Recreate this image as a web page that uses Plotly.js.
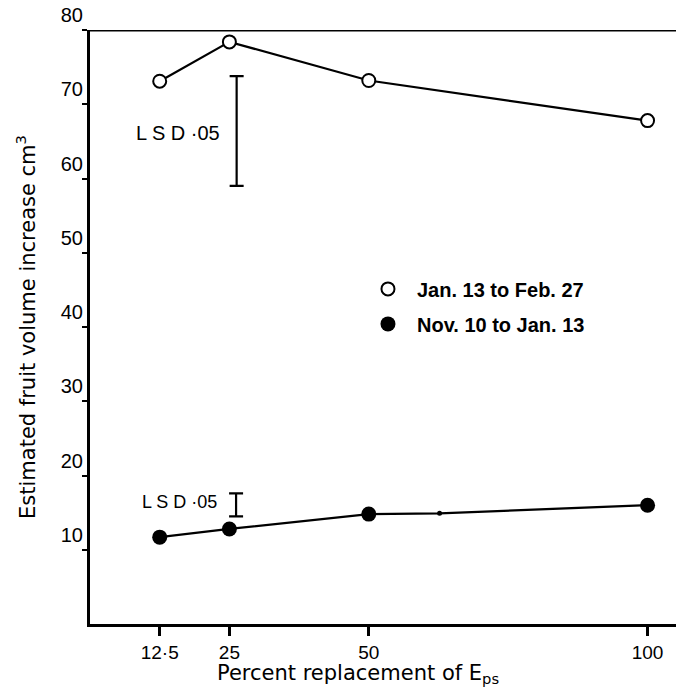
<!DOCTYPE html>
<html>
<head>
<meta charset="utf-8">
<script src="https://cdn.plot.ly/plotly-3.0.1.min.js"></script>
<style>html,body{margin:0;padding:0;background:#fff;}#chart{width:676px;height:688px;}</style>
</head>
<body>
<div id="chart"></div>
<script>
// Data
const xPct = [12.5, 25, 50, 100];
const xTickLabels = ["12·5", "25", "50", "100"];
const janFebY = [73.1, 78.4, 73.2, 67.8];
const novJanY = [11.7, 12.8, 14.8, 16.0];
const novDotX = [62.7];
const novDotY = [14.9];
const lsdX = [26.3, 26.2];
const lsdLow = [59.0, 14.5];
const lsdHigh = [73.8, 17.6];
const yTicks = [10, 20, 30, 40, 50, 60, 70, 80];
const seriesNames = ["Jan. 13 to Feb. 27", "Nov. 10 to Jan. 13"];

// merged line for the Nov series (passes through the small dot)
const novLinePts = xPct.map((x, i) => [x, novJanY[i]]).concat(novDotX.map((x, i) => [x, novDotY[i]])).sort((a, b) => a[0] - b[0]);

const lsdMid = lsdLow.map((l, i) => (l + lsdHigh[i]) / 2);
const lsdHalf = lsdLow.map((l, i) => (lsdHigh[i] - l) / 2);

const traces = [
  {x: xPct, y: janFebY, mode: 'lines', line: {color: '#000', width: 2.2}, showlegend: false, hoverinfo: 'skip'},
  {x: novLinePts.map(p => p[0]), y: novLinePts.map(p => p[1]), mode: 'lines', line: {color: '#000', width: 2.2}, showlegend: false, hoverinfo: 'skip'},
  {x: xPct, y: janFebY, mode: 'markers', name: seriesNames[0], legendgroup: 'a',
   marker: {symbol: 'circle', size: 13, color: '#fff', line: {color: '#000', width: 2}}},
  {x: xPct, y: novJanY, mode: 'markers', name: seriesNames[1], legendgroup: 'b',
   marker: {symbol: 'circle', size: 15, color: '#000', line: {width: 0}}},
  {x: novDotX, y: novDotY, mode: 'markers', showlegend: false,
   marker: {symbol: 'circle', size: 5, color: '#000'}},
  {x: lsdX, y: lsdMid, mode: 'markers', showlegend: false, marker: {size: 2, opacity: 0},
   error_y: {type: 'data', array: lsdHalf, visible: true, color: '#000', thickness: 2.2, width: 7}}
];

const layout = {
  width: 676, height: 688,
  margin: {l: 90, r: 0, t: 30, b: 64},
  paper_bgcolor: '#fff', plot_bgcolor: '#fff',
  font: {family: 'Liberation Sans, Arial, sans-serif', color: '#000', size: 20},
  showlegend: true,
  legend: {x: 0.459, y: 0.597, xanchor: 'left', yanchor: 'top', bgcolor: 'rgba(0,0,0,0)',
    font: {family: 'Liberation Sans, Arial, sans-serif', size: 20, weight: 'bold', color: '#000'},
    traceorder: 'grouped', tracegroupgap: 6, itemwidth: 48},
  xaxis: {range: [0, 105.1], showline: true, linecolor: '#000', linewidth: 3, showgrid: false, zeroline: false,
    tickmode: 'array', tickvals: xPct, ticktext: xTickLabels, ticks: 'outside', ticklen: 9, tickwidth: 3, tickcolor: '#000',
    ticklabelstandoff: 0, tickfont: {size: 19}},
  yaxis: {range: [0, 80], showline: true, linecolor: '#000', linewidth: 3, showgrid: false, zeroline: false,
    tickmode: 'array', tickvals: yTicks, ticks: 'outside', ticklen: 5, tickwidth: 2, tickcolor: '#000',
    ticklabelposition: 'outside top', tickfont: {size: 20},
    title: {text: 'Estimated fruit volume increase cm<sup>3</sup>', font: {family: 'DejaVu Sans, sans-serif', size: 21}, standoff: 20}},
  shapes: [
    {type: 'line', xref: 'paper', yref: 'y', x0: 0, x1: 1, y0: 80, y1: 80, line: {color: '#000', width: 3}}
  ],
  annotations: [
    {text: 'Percent replacement of E<sub>ps</sub>', xref: 'paper', yref: 'paper', x: 0.457, y: -0.085,
     xanchor: 'center', yanchor: 'middle', showarrow: false, font: {family: 'DejaVu Sans, sans-serif', size: 21}},
    {text: 'L S D ·05', xref: 'x', yref: 'y', x: 15.8, y: 66.1, xanchor: 'center', yanchor: 'middle', showarrow: false,
     font: {size: 20}},
    {text: 'L S D ·05', xref: 'x', yref: 'y', x: 16.1, y: 16.4, xanchor: 'center', yanchor: 'middle', showarrow: false,
     font: {size: 18}}
  ]
};

Plotly.newPlot('chart', traces, layout, {displayModeBar: false, staticPlot: true});
</script>
</body>
</html>
